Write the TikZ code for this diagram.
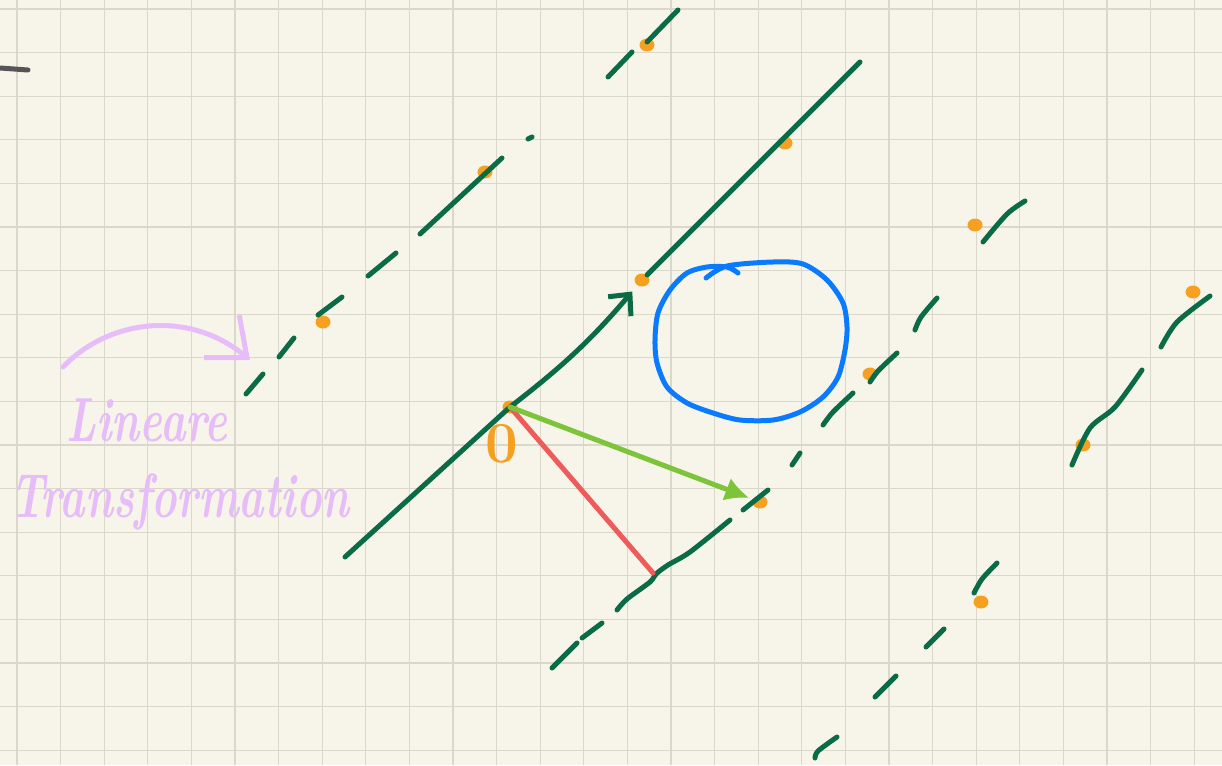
\documentclass[tikz,border=0pt]{standalone}
\usepackage{tikz}
\usetikzlibrary{positioning, arrows.meta, calc, shapes.geometric}

\definecolor{paper}{HTML}{F7F5E9}
\definecolor{gridgray}{HTML}{DAD8CB}
\definecolor{pine}{HTML}{0B6B47}
\definecolor{marigold}{HTML}{F5A020}
\definecolor{coral}{HTML}{EF5B5B}
\definecolor{leaf}{HTML}{7DC43A}
\definecolor{skyblue}{HTML}{0A7AFF}
\definecolor{lilac}{HTML}{E6BDF8}
\definecolor{pencil}{HTML}{555555}

\newcommand{\tallword}[1]{\scalebox{1}[1.45]{#1}}

\begin{document}
\begin{tikzpicture}[
  x=1pt, y=-1pt,
  gridline/.style={draw=gridgray, line width=1.3pt},
  penline/.style={draw=pine, line width=5pt, line cap=round, line join=round},
  dot/.style={ellipse, fill=marigold, minimum width=15pt, minimum height=13pt, inner sep=0pt},
  handtext/.style={text=lilac, font=\fontsize{43}{50}\selectfont\bfseries\itshape, inner sep=0pt},
  vecarrow/.style={line width=5pt, line cap=round, line join=round},
]

  % Paper and squares
  \useasboundingbox (0,0) rectangle (1222,765);
  \fill[paper] (0,0) rectangle (1222,765);
  \foreach \i in {0,...,27} {
    \draw[gridline] ({17+43.6*\i},0) -- ++(0,765);
  }
  \foreach \j in {0,...,17} {
    \draw[gridline] (0,{9+43.6*\j}) -- ++(1222,0);
  }
  \draw[draw=pencil, line width=5pt, line cap=round] (0,68) -- (28,70);

  % Lattice points
  \foreach \name/\x/\y in {p1/323/322, p2/485/172, p3/647/45, p4/785/143,
                           e1/642/280, orig/510/407, p7/870/374, e2/760/502,
                           p9/975/225, p10/1083/445, p11/1193/292, p12/981/602} {
    \node[dot] (\name) at (\x,\y) {};
  }
  \coordinate (startB) at (345,557);
  \coordinate (endB) at (860,62);
  \coordinate (foot) at (653,573);

  % Label with its arrow
  \node[handtext] (lin) at (147,420) {\tallword{Lineare}};
  \node[handtext] (trans) at (180,502) {\tallword{Transformation}};
  \coordinate (curlstart) at (63,367);
  \coordinate (curlend) at (250,360);
  \draw[draw=lilac, vecarrow, -{Straight Barb[length=33pt,width=55pt]}]
    (curlstart) .. controls (110,318) and (190,310) .. (curlend);

  % Dashed lines of the lattice
  \foreach \a/\b/\c/\d in {246/394/263/374, 279/357/294/338, 318/315/342/297,
                           368/276/396/253, 420/234/502/158, 528/139/532/137,
                           608/77/632/52, 647/42/678/10,
                           552/668/577/643, 582/638/602/623, 743/510/768/490,
                           792/465/800/453,
                           875/697/896/676, 926/647/944/629} {
    \draw[penline] (\a,\b) -- (\c,\d);
  }
  \draw[penline] plot[smooth] coordinates {(617,610) (627,599) (650,582) (656,574) (668,565) (690,552) (730,520)};
  \draw[penline] plot[smooth] coordinates {(823,425) (833,412) (853,393)};
  \draw[penline] plot[smooth] coordinates {(870,382) (878,371) (897,353)};
  \draw[penline] plot[smooth] coordinates {(915,330) (921,317) (937,298)};
  \draw[penline] plot[smooth] coordinates {(983,242) (1007,214) (1025,201)};
  \draw[penline] plot[smooth] coordinates {(1072,465) (1090,428) (1115,407) (1142,370)};
  \draw[penline] plot[smooth] coordinates {(1161,347) (1177,322) (1210,296)};
  \draw[penline] plot[smooth] coordinates {(815,758) (818,751) (837,737)};
  \draw[penline] plot[smooth] coordinates {(974,593) (982,579) (997,563)};

  % Line through the origin
  \draw[penline, -{Straight Barb[length=16pt,width=30pt]}, shorten >=8pt]
    (startB) -- (orig.center) to[bend right=6] (e1);
  \draw[penline] (e1) -- (endB);

  % Unit circle
  \draw[draw=skyblue, line width=5pt, line cap=round, line join=round]
    plot[smooth] coordinates {(706,278) (727,266) (773,262) (803,264) (827,280)
      (843,303) (847,327) (845,350) (838,377) (823,397) (800,412) (773,420)
      (740,420) (713,413) (687,403) (667,387) (657,363) (655,340) (658,313)
      (670,290) (687,273) (707,267) (727,267) (738,273)};

  % Vectors from the origin
  \node[text=marigold, font=\fontsize{58}{58}\selectfont\bfseries, inner sep=0pt] (zero) at (502,444) {0};
  \draw[draw=coral, vecarrow] (orig.center) -- (foot);
  \draw[draw=leaf, vecarrow, -{Latex[length=24pt,width=24pt]}, shorten >=4pt]
    (orig.center) -- (e2);

\end{tikzpicture}
\end{document}
